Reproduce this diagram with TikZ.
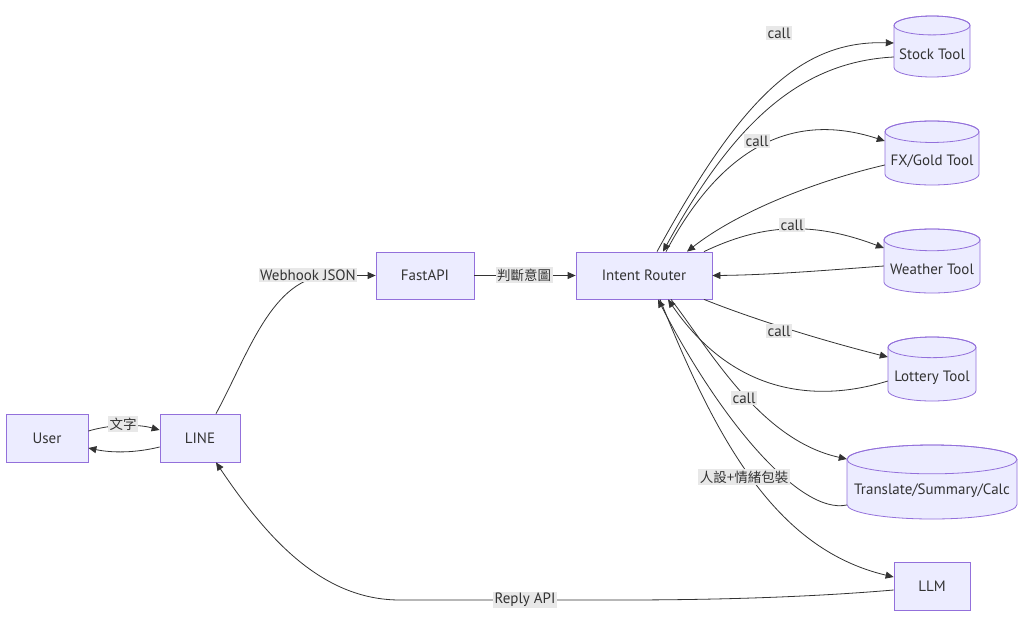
\documentclass[tikz,border=0pt]{standalone}
\usepackage{fontspec}
\setmainfont{PT Sans}
\newfontfamily\cjk{Noto Sans CJK TC}
\usetikzlibrary{arrows.meta,calc}
\definecolor{nfill}{HTML}{ECECFF}
\definecolor{nline}{HTML}{9370DB}
\definecolor{ink}{HTML}{333333}
\definecolor{lblbg}{HTML}{E8E8E8}
\newcommand{\mycyl}[7]{%
  \pgfmathsetmacro{\cylrx}{#4/2}%
  \pgfmathsetmacro{\cylry}{\cylrx/(2.5+#4/50)}%
  \pgfmathsetmacro{\cylxa}{#2-\cylrx}%
  \pgfmathsetmacro{\cylxb}{#2+\cylrx}%
  \pgfmathsetmacro{\cylya}{#3-#5/2+\cylry}%
  \pgfmathsetmacro{\cylyb}{#3+#5/2-\cylry}%
  \node[cylbox, minimum width=#4pt, minimum height=#5pt] (#1) at (#2,#3) {};
  \path[cylstyle] (\cylxa,\cylya) -- (\cylxa,\cylyb)
     arc[start angle=180, end angle=360, x radius=\cylrx pt, y radius=\cylry pt]
     -- (\cylxb,\cylya)
     arc[start angle=0, end angle=180, x radius=\cylrx pt, y radius=\cylry pt] -- cycle;
  \draw[cylline] (#2,\cylya) ellipse[x radius=\cylrx pt, y radius=\cylry pt];
  \node[txt] (#1t) at (#2,#3+#7) {#6};
}
\begin{document}
\begin{tikzpicture}[x=1pt,y=-1pt,
  box/.style={draw=nline, fill=nfill, line width=0.8pt, text=ink, font=\fontsize{15}{17}\selectfont, inner sep=0pt},
  cylbox/.style={draw=none, inner sep=0pt},
  cylstyle/.style={draw=nline, fill=nfill, line width=0.8pt},
  cylline/.style={draw=nline, line width=0.8pt},
  txt/.style={text=ink, font=\fontsize{15}{17}\selectfont, inner sep=0pt},
  edge/.style={draw=ink, line width=0.8pt, -{Triangle[length=8pt,width=7pt]}},
  lbl/.style={fill=lblbg, text=ink, font=\fontsize{15}{17}\selectfont, inner sep=1.5pt},
  cjklbl/.style={fill=lblbg, text=ink, font=\cjk\fontsize{13.5}{15}\selectfont, inner sep=1.5pt}
]
\fill[white] (0,0) rectangle (1024,627);
\useasboundingbox (0,0) rectangle (1024,627);

% nodes
\node[box, minimum width=82pt, minimum height=48pt] (user) at (47,438) {User};
\node[box, minimum width=80pt, minimum height=48pt] (line) at (200,438) {LINE};
\node[box, minimum width=98pt, minimum height=47pt] (fastapi) at (425,275.5) {FastAPI};
\node[box, minimum width=136pt, minimum height=47pt] (router) at (644,275.5) {Intent Router};
\node[box, minimum width=76pt, minimum height=48pt] (llm) at (932,586) {LLM};
\mycyl{stock}{932}{46.5}{76}{61}{Stock Tool}{8}
\mycyl{fx}{932}{153}{94}{64}{FX/Gold Tool}{8.5}
\mycyl{weather}{932}{261}{96}{64}{Weather Tool}{8.5}
\mycyl{lottery}{932}{369}{88}{64}{Lottery Tool}{8.5}
\mycyl{trans}{932}{482}{170}{74}{Translate/Summary/Calc}{8.5}

% edges
\draw[edge] ($(user.east)+(0,-7)$) .. controls (112,424) and (138,424) .. ($(line.west)+(0,-8)$);
\draw[edge] ($(line.west)+(0,9)$) .. controls (135,453) and (112,453) .. ($(user.east)+(0,10)$);
\draw[edge] ($(line.north)+(16,0)$) .. controls (248,355) and (272,276) .. (330,275.5) -- (fastapi.west);
\draw[edge] (fastapi.east) -- (router.west);

\draw[edge] ($(router.north)+(13,0)$) .. controls (740,100) and (800,40) .. ($(stock.west)+(0,-3.5)$);
\draw[edge] ($(stock.west)+(0,10.5)$) .. controls (795,62) and (730,130) .. ($(router.north)+(19,0)$);

\draw[edge] ($(router.north)+(22,0)$) .. controls (720,150) and (790,110) .. ($(fx.west)+(0,-12)$);
\draw[edge] ($(fx.west)+(0,12)$) .. controls (820,180) and (740,210) .. ($(router.north)+(43,0)$);

\draw[edge] ($(router.north)+(60,0)$) .. controls (760,225) and (810,220) .. ($(weather.west)+(0,-13)$);
\draw[edge] ($(weather.west)+(0,5)$) .. controls (830,270) and (770,275) .. (router.east);

\draw[edge] ($(router.south)+(60,0)$) .. controls (750,318) and (820,340) .. ($(lottery.west)+(0,-12)$);
\draw[edge] ($(lottery.west)+(0,12)$) .. controls (810,405) and (730,390) .. ($(router.south)+(24,0)$);

\draw[edge] ($(router.south)+(27,0)$) .. controls (710,350) and (760,440) .. ($(trans.west)+(0,-23)$);
\draw[edge] ($(trans.west)+(0,23)$) .. controls (800,515) and (720,420) .. ($(router.south)+(14,0)$);

\draw[edge] ($(router.south)+(16,0)$) .. controls (720,450) and (780,550) .. ($(llm.west)+(0,-9)$);
\draw[edge] ($(llm.west)+(0,4)$) .. controls (800,598) and (700,600) .. (620,600) -- (400,600) .. controls (320,600) and (265,535) .. ($(line.south)+(16,0)$);

% labels
\node[cjklbl] (l1) at (123,424) {文字};
\node[lbl] (l2) at (308,275) {Webhook JSON};
\node[cjklbl] (l3) at (524,275) {判斷意圖};
\node[lbl] (l4) at (779,33) {call};
\node[lbl] (l5) at (757,141) {call};
\node[lbl] (l6) at (792,225) {call};
\node[lbl] (l7) at (779,331) {call};
\node[lbl] (l8) at (744,398) {call};
\node[cjklbl] (l9) at (744,477) {人設+情緒包裝};
\node[lbl] (l10) at (525,600) {Reply API};
\end{tikzpicture}
\end{document}
